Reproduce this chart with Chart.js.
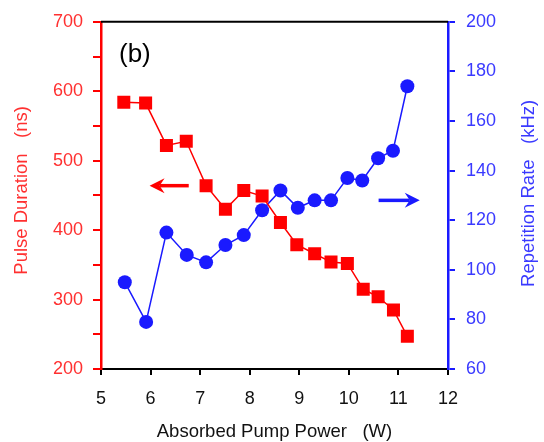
<!DOCTYPE html>
<html>
<head>
<meta charset="utf-8">
<script src="https://cdn.jsdelivr.net/npm/chart.js@4/dist/chart.umd.min.js"></script>
<style>
html,body{margin:0;padding:0;background:#fff;}
#wrap{width:544px;height:442px;position:relative;}
</style>
</head>
<body>
<div id="wrap"><canvas id="c" width="544" height="442"></canvas></div>
<script>
// Data
const powerRed   = [5.46, 5.90, 6.32, 6.72, 7.12, 7.51, 7.88, 8.25, 8.62, 8.95, 9.31, 9.64, 9.97, 10.29, 10.59, 10.90, 11.18];
const pulseNs    = [584, 583, 522, 528, 464, 430, 457, 449, 411, 379, 366, 354, 352, 315, 304, 285, 247];
const powerBlue  = [5.48, 5.91, 6.32, 6.73, 7.12, 7.51, 7.88, 8.25, 8.62, 8.97, 9.31, 9.64, 9.97, 10.27, 10.59, 10.89, 11.18];
const repKHz     = [95, 79, 115, 106, 103, 110, 114, 124, 132, 125, 128, 128, 137, 136, 145, 148, 174];
const xTicks     = [5, 6, 7, 8, 9, 10, 11, 12];
const leftTicks  = [200, 300, 400, 500, 600, 700];
const rightTicks = [60, 80, 100, 120, 140, 160, 180, 200];
const xTitle     = 'Absorbed Pump Power   (W)';
const leftTitle  = 'Pulse Duration   (ns)';
const rightTitle = 'Repetition Rate   (kHz)';
// Annotation arrows in data units: [xFrom, xTo, y]
const redArrow   = [6.77, 5.98, 464];
const blueArrow  = [10.60, 11.43, 128];

const RED = '#ff0000', RED_T = '#ff3030', BLUE = '#1a1aff', BLUE_T = '#3a3aff';
const FONT = '"Liberation Sans", Arial, sans-serif';

const annot = {
  id: 'annot',
  afterDraw(chart) {
    const ctx = chart.ctx, ca = chart.chartArea;
    const xs = chart.scales.x, yl = chart.scales.yL, yr = chart.scales.yR;
    ctx.save();
    // top border
    ctx.strokeStyle = '#000'; ctx.lineWidth = 2;
    ctx.beginPath(); ctx.moveTo(ca.left, ca.top); ctx.lineTo(ca.right, ca.top); ctx.stroke();
    // label (b)
    ctx.fillStyle = '#000';
    ctx.font = '26px ' + FONT;
    ctx.textBaseline = 'middle'; ctx.textAlign = 'left';
    ctx.fillText('(b)', ca.left + 18, ca.top + 33);
    // axis titles
    const cy = (ca.top + ca.bottom) / 2;
    ctx.font = '18.5px ' + FONT;
    ctx.textAlign = 'center'; ctx.textBaseline = 'middle';
    ctx.fillStyle = '#111';
    ctx.fillText(xTitle, (ca.left + ca.right) / 2, 432);
    ctx.fillStyle = RED_T;
    ctx.save(); ctx.translate(22, cy - 5); ctx.rotate(-Math.PI / 2); ctx.fillText(leftTitle, 0, 0); ctx.restore();
    ctx.fillStyle = BLUE_T;
    ctx.save(); ctx.translate(529, cy - 2); ctx.rotate(-Math.PI / 2); ctx.fillText(rightTitle, 0, 0); ctx.restore();
    function arrow(x1, x2, y, color) {
      ctx.strokeStyle = color; ctx.fillStyle = color; ctx.lineWidth = 3.5;
      const dir = Math.sign(x2 - x1);
      ctx.beginPath(); ctx.moveTo(x1, y); ctx.lineTo(x2 - dir * 10, y); ctx.stroke();
      ctx.beginPath();
      ctx.moveTo(x2, y);
      ctx.lineTo(x2 - dir * 15, y - 7.5);
      ctx.lineTo(x2 - dir * 10, y);
      ctx.lineTo(x2 - dir * 15, y + 7.5);
      ctx.closePath(); ctx.fill();
    }
    arrow(xs.getPixelForValue(redArrow[0]), xs.getPixelForValue(redArrow[1]), yl.getPixelForValue(redArrow[2]), RED);
    arrow(xs.getPixelForValue(blueArrow[0]), xs.getPixelForValue(blueArrow[1]), yr.getPixelForValue(blueArrow[2]), BLUE);
    ctx.restore();
  }
};

new Chart(document.getElementById('c'), {
  type: 'scatter',
  data: {
    datasets: [
      {
        label: 'Pulse Duration',
        data: powerRed.map((x, i) => ({x, y: pulseNs[i]})),
        yAxisID: 'yL',
        showLine: true,
        borderColor: RED, backgroundColor: RED,
        borderWidth: 1.5,
        pointStyle: 'rect', pointRadius: 9.2, pointHoverRadius: 9.2,
        pointBorderWidth: 0
      },
      {
        label: 'Repetition Rate',
        data: powerBlue.map((x, i) => ({x, y: repKHz[i]})),
        yAxisID: 'yR',
        showLine: true,
        borderColor: BLUE, backgroundColor: BLUE,
        borderWidth: 1.5,
        pointStyle: 'circle', pointRadius: 7, pointHoverRadius: 7,
        pointBorderWidth: 0
      }
    ]
  },
  plugins: [annot],
  options: {
    responsive: false,
    animation: false,
    layout: { padding: { top: 21, left: 0, right: 0, bottom: 0 } },
    plugins: { legend: { display: false }, tooltip: { enabled: false } },
    scales: {
      x: {
        type: 'linear', position: 'bottom', min: 5, max: 12,
        afterBuildTicks: s => { s.ticks = xTicks.map(v => ({value: v})); },
        afterFit: s => { s.height = 73; },
        border: { display: true, color: '#000', width: 2 },
        grid: { drawOnChartArea: false, drawTicks: true, tickLength: 6, color: '#000', lineWidth: 2 },
        ticks: { color: '#111', font: { family: FONT, size: 18 }, padding: 13, maxRotation: 0 }
      },
      yL: {
        type: 'linear', position: 'left', min: 200, max: 700,
        afterBuildTicks: s => { const t = []; for (let v = 200; v <= 700; v += 50) t.push({value: v}); s.ticks = t; },
        afterFit: s => { s.width = 101; },
        border: { display: true, color: RED, width: 2.5 },
        grid: { drawOnChartArea: false, drawTicks: true, tickLength: 8, color: RED, lineWidth: 2 },
        ticks: { color: RED_T, font: { family: FONT, size: 18 }, padding: 10,
                 callback: v => leftTicks.includes(v) ? String(v) : '' }
      },
      yR: {
        type: 'linear', position: 'right', min: 60, max: 200,
        afterBuildTicks: s => { s.ticks = rightTicks.map(v => ({value: v})); },
        afterFit: s => { s.width = 96; },
        border: { display: true, color: BLUE, width: 2.5 },
        grid: { drawOnChartArea: false, drawTicks: true, tickLength: 7, color: BLUE, lineWidth: 2 },
        ticks: { color: BLUE_T, font: { family: FONT, size: 18 }, padding: 11 }
      }
    }
  }
});
</script>
</body>
</html>
